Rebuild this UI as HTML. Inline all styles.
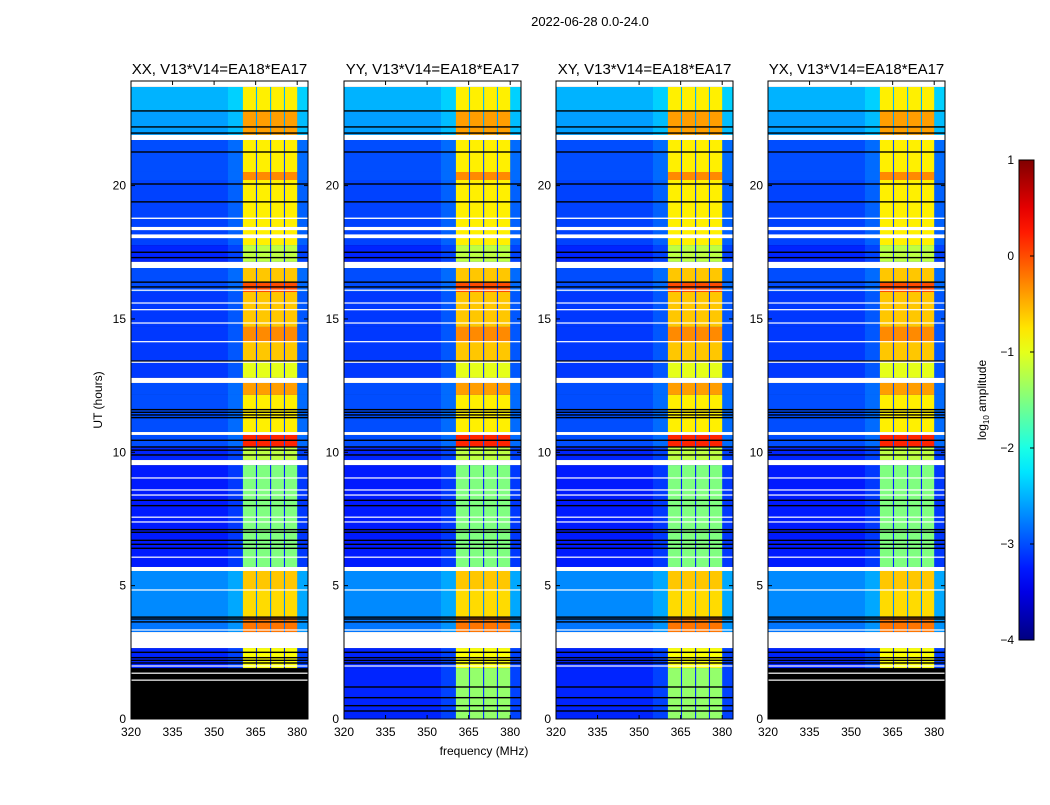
<!DOCTYPE html>
<html><head><meta charset="utf-8">
<style>
html,body{margin:0;padding:0;background:#fff;}
body{width:1050px;height:800px;overflow:hidden;font-family:"Liberation Sans",sans-serif;}
svg text{font-family:"Liberation Sans",sans-serif;fill:#000;}
</style></head>
<body>
<svg id="fig" width="1050" height="800" viewBox="0 0 1050 800" xmlns="http://www.w3.org/2000/svg">
<text x="590" y="26" font-size="13" text-anchor="middle">2022-06-28 0.0-24.0</text>
<text x="484" y="755" font-size="12" text-anchor="middle">frequency (MHz)</text>
<text transform="translate(102,400) rotate(-90)" font-size="12" text-anchor="middle">UT (hours)</text>
<g id="panels"></g>
<g id="cbar"></g>
</svg>
<script>
// ---- data ----
const panelTitles = ["XX, V13*V14=EA18*EA17","YY, V13*V14=EA18*EA17","XY, V13*V14=EA18*EA17","YX, V13*V14=EA18*EA17"];
const panelLeft = [131,344,556,768];
const xTicks = [320,335,350,365,380];
const yTicks = [0,5,10,15,20];
// time segments: [startHour, endHour, backgroundLog10, bandLog10]
const segments = [
 [22.8,23.7,-2.5,-0.8],[21.9,22.8,-2.6,-0.4],[21.26,21.71,-3.0,-0.8],[20.51,21.26,-3.0,-0.8],
 [20.21,20.51,-3.0,-0.3],[17.77,20.21,-3.05,-0.8],[17.14,17.77,-3.2,-1.2],[16.35,16.91,-3.0,-0.6],
 [16.01,16.35,-3.0,0.0],[14.70,16.01,-3.1,-0.6],[14.14,14.70,-3.1,-0.3],[13.39,14.14,-3.1,-0.6],
 [12.79,13.39,-3.1,-1.0],[12.15,12.6,-3.0,-0.4],[10.76,12.15,-3.0,-0.8],[10.20,10.65,-3.0,0.2],
 [9.71,10.20,-3.2,-1.2],[5.70,9.52,-3.25,-1.5],[4.84,5.55,-2.7,-0.6],[3.82,4.84,-2.7,-0.7],
 [3.26,3.82,-2.8,-0.2],[1.91,2.66,-3.2,-0.9]
];
// bottom segment per panel (null = no data / black)
const bottomSeg = [null,[0,1.91,-3.2,-1.4],[0,1.91,-3.2,-1.4],null];
// flagged (white) hour ranges
const whiteGaps = [[23.7,23.92],[21.71,21.9],[18.75,18.8],[18.33,18.45],[18.03,18.17],[16.91,17.14],
 [16.07,16.1],[15.58,15.62],[15.33,15.37],[14.83,14.87],[14.13,14.17],[13.37,13.4],[12.6,12.79],
 [10.65,10.76],[9.52,9.71],[9.02,9.06],[8.57,8.61],[8.38,8.42],[7.55,7.59],[7.37,7.41],[6.05,6.09],
 [5.55,5.70],[4.82,4.86],[3.32,3.36],[2.66,3.26],[1.97,2.01]];
const whiteBottom = [[1.70,1.74],[1.44,1.48]];
const blackLines = [22.8,22.2,21.97,21.26,20.06,19.39,17.5,17.3,16.38,16.2,13.42,11.6,11.5,11.4,11.3,
 10.45,10.2,10.08,9.9,8.2,8.0,7.1,7.0,6.7,6.55,6.4,3.82,3.75,3.64,2.5,2.3,2.2,2.1];
const blackBottom = [1.2,0.8,0.5,0.3];
// RFI band sub-columns (MHz)
const bandCols = [[360.4,365.1],[365.5,370.2],[370.6,375.2],[375.6,380.0]];
const cbarTicks = [1,0,-1,-2,-3,-4];

// ---- helpers ----
const NS="http://www.w3.org/2000/svg";
function jet(v){let t=(v+4)/5;t=Math.max(0,Math.min(1,t));
 const f=x=>Math.round(255*Math.max(0,Math.min(1,x)));
 return `rgb(${f(1.5-Math.abs(4*t-3))},${f(1.5-Math.abs(4*t-2))},${f(1.5-Math.abs(4*t-1))})`;}
const H=638, Y0=719, HPX=26.67, PW=177;
const yS=h=>Y0-h*HPX;
const xS=(p,f)=>panelLeft[p]+(f-320)*2.77;
function el(tag,attrs,parent){const e=document.createElementNS(NS,tag);for(const k in attrs)e.setAttribute(k,attrs[k]);parent.appendChild(e);return e;}
const root=document.getElementById('panels');

panelLeft.forEach((L,p)=>{
 const g=el('g',{},root);
 
 
 const clipId='clip'+p;
 const cp=el('clipPath',{id:clipId},g);el('rect',{x:L,y:81,width:PW,height:H},cp);
 const d=el('g',{'clip-path':`url(#${clipId})`},g);
 el('rect',{x:L,y:81,width:PW,height:H,fill:'#000'},d);
 const segs=segments.concat(bottomSeg[p]?[bottomSeg[p]]:[]);
 segs.forEach(s=>{
  const y1=yS(s[1]),y0=yS(s[0]);
  const r=el('rect',{x:L,y:y1,width:PW,height:y0-y1,fill:jet(s[2])},d);
  
  
  el('rect',{x:xS(p,355),y:y1,width:xS(p,360.4)-xS(p,355),height:y0-y1,fill:jet(s[2]+0.15)},d);
  el('rect',{x:xS(p,380),y:y1,width:PW,height:y0-y1,fill:jet(s[2]+0.15)},d);
  bandCols.forEach(c=>{
   const b=el('rect',{x:xS(p,c[0]),y:y1,width:xS(p,c[1])-xS(p,c[0]),height:y0-y1,fill:jet(s[3])},d);
   
   
  });
 });
 blackLines.concat(bottomSeg[p]?blackBottom:[]).forEach(h=>el('rect',{x:L,y:yS(h)-0.7,width:PW,height:1.4,fill:'#000'},d));
 whiteGaps.concat(bottomSeg[p]?[]:whiteBottom).forEach(w=>{
  const y1=yS(w[1]),y0=yS(w[0]);
  el('rect',{x:L,y:y1,width:PW,height:Math.max(1.2,y0-y1),fill:'#fff'},d);
 });
 // axes frame
 const fr=el('rect',{x:L,y:81,width:PW,height:H,fill:'none',stroke:'#000','stroke-width':1},g);
 
 
 xTicks.forEach(t=>{const x=xS(p,t);
  el('line',{x1:x,x2:x,y1:719,y2:715,stroke:'#000'},g);el('line',{x1:x,x2:x,y1:81,y2:85,stroke:'#000'},g);
  const tx=el('text',{x:x,y:736,'font-size':12,'text-anchor':'middle'},g);tx.textContent=t;
  
  
 });
 yTicks.forEach(t=>{const y=yS(t);
  el('line',{x1:L,x2:L+4,y1:y,y2:y,stroke:'#000'},g);el('line',{x1:L+PW,x2:L+PW-4,y1:y,y2:y,stroke:'#000'},g);
  const ty=el('text',{x:L-5,y:y+4,'font-size':12,'text-anchor':'end'},g);ty.textContent=t;
  
  
 });
 const tt=el('text',{x:L+PW/2,y:74,'font-size':15,'text-anchor':'middle'},g);tt.textContent=panelTitles[p];
 
 
});

// colorbar
const cb=document.getElementById('cbar');


const defs=el('defs',{},cb);
const lg=el('linearGradient',{id:'jetg',x1:0,y1:1,x2:0,y2:0},defs);
for(let i=0;i<=20;i++){el('stop',{offset:i/20,'stop-color':jet(-4+5*i/20)},lg);}
el('rect',{x:1019,y:160,width:15,height:480,fill:'url(#jetg)',stroke:'#000','stroke-width':1},cb);
cbarTicks.forEach(v=>{const y=640-(v+4)*96;
 el('line',{x1:1030,x2:1034,y1:y,y2:y,stroke:'#000'},cb);
 const t=el('text',{x:1014,y:y+4,'font-size':12,'text-anchor':'end'},cb);t.textContent=v<0?'\u2212'+(-v):v;
 
 
});
const cl=el('text',{transform:'translate(986,400) rotate(-90)','font-size':12,'text-anchor':'middle'},cb);
cl.innerHTML='log<tspan font-size="8" dy="3">10</tspan><tspan dy="-3"> amplitude</tspan>';


</script>
</body></html>
